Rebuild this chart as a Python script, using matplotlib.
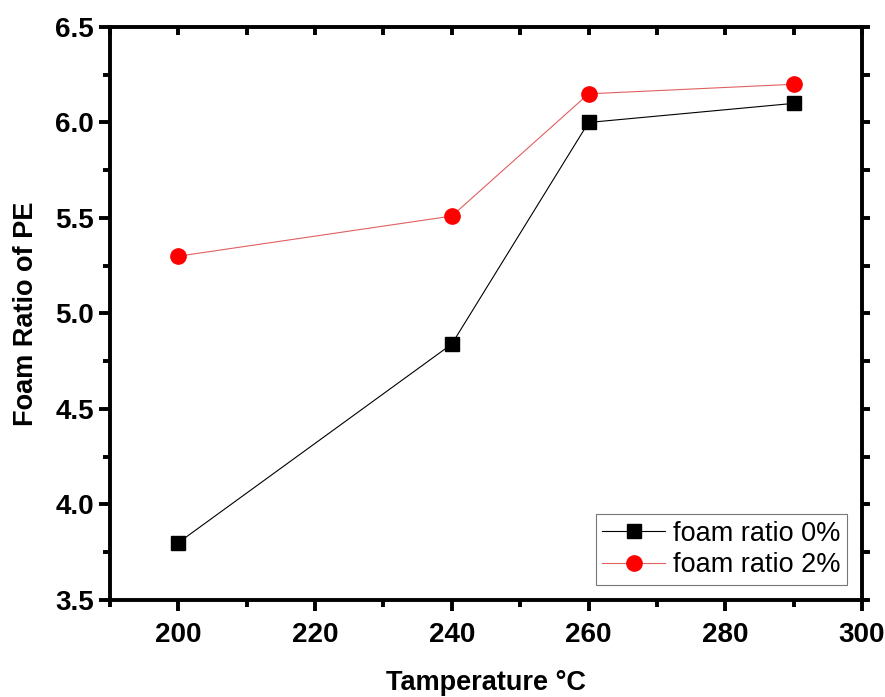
import matplotlib
matplotlib.use("Agg")
import matplotlib.pyplot as plt
from matplotlib.ticker import MultipleLocator

plt.rcParams["font.family"] = ["Liberation Sans", "DejaVu Sans"]

# Foaming temperature (deg C) and measured foam ratio of PE
temperature = [200, 240, 260, 290]
ratio_0pct = [3.80, 4.84, 6.00, 6.10]
ratio_2pct = [5.30, 5.51, 6.15, 6.20]
series_labels = ["foam ratio 0%", "foam ratio 2%"]

fig = plt.figure(figsize=(8.85, 6.97), dpi=100)
ax = fig.add_axes([0.1243, 0.1392, 0.8497, 0.8221])

ax.plot(temperature, ratio_0pct, color="black", lw=0.8, marker="s", ms=10,
        mfc="black", mec="black", label=series_labels[0])
ax.plot(temperature, ratio_2pct, color="#e06060", lw=0.8, marker="o", ms=11,
        mfc="#ff0000", mec="#ff0000", label=series_labels[1])

ax.set_xlim(190, 300)
ax.set_ylim(3.5, 6.5)
ax.xaxis.set_major_locator(MultipleLocator(20))
ax.xaxis.set_minor_locator(MultipleLocator(10))
ax.yaxis.set_major_locator(MultipleLocator(0.5))
ax.yaxis.set_minor_locator(MultipleLocator(0.25))
ax.yaxis.set_major_formatter(plt.FormatStrFormatter("%.1f"))

for spine in ax.spines.values():
    spine.set_linewidth(2.8)

ax.tick_params(which="both", direction="out", width=2.8, labelsize=20)
ax.tick_params(which="major", length=8)
ax.tick_params(which="minor", length=5)
ax.tick_params(axis="x", pad=8)
for lab in ax.get_xticklabels() + ax.get_yticklabels():
    lab.set_fontweight("bold")

# top axis: inward ticks, right axis: outward ticks, no labels
sec_x = ax.secondary_xaxis("top")
sec_x.xaxis.set_major_locator(MultipleLocator(10))
sec_x.tick_params(direction="in", width=2.8, length=6, labeltop=False)
sec_x.spines["top"].set_visible(False)
sec_y = ax.secondary_yaxis("right")
sec_y.yaxis.set_major_locator(MultipleLocator(0.25))
sec_y.tick_params(direction="out", width=2.8, length=6, labelright=False)
sec_y.spines["right"].set_visible(False)

ax.set_xlabel("Tamperature °C", fontsize=19.5, fontweight="bold", labelpad=16)
ax.set_ylabel("Foam Ratio of PE", fontsize=19.5, fontweight="bold", labelpad=12)

leg = ax.legend(loc="lower right", fontsize=19.5, frameon=True, fancybox=False,
                edgecolor="#555555", borderpad=0.25, handlelength=2.3,
                handletextpad=0.3, labelspacing=0.2, borderaxespad=0.55)
leg.get_frame().set_linewidth(0.8)

fig.savefig("out.png", dpi=100)
